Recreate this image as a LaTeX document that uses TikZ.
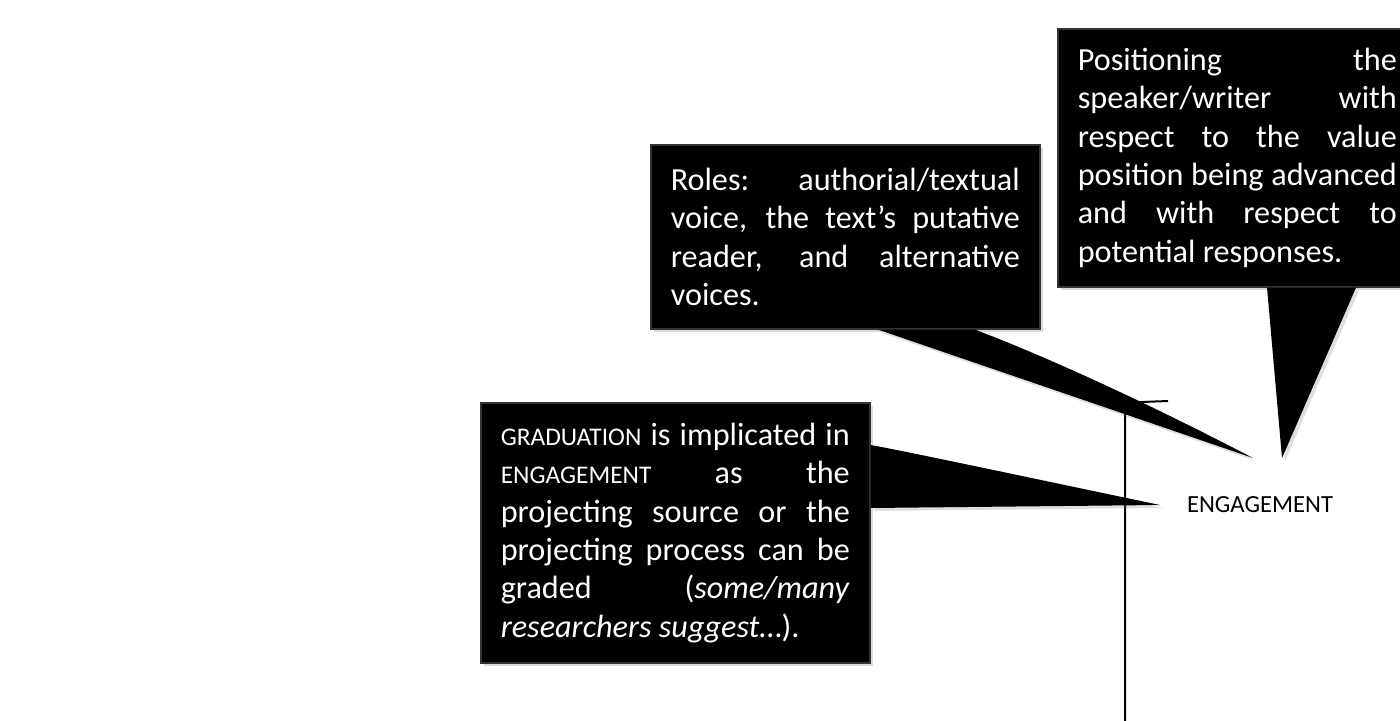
\documentclass[tikz,border=0pt]{standalone}
\usepackage{fontspec}
\setmainfont{Carlito}
\usetikzlibrary{positioning,calc,shadows}

\newcommand{\boxfont}{\fontsize{16.1pt}{19.2pt}\selectfont\tolerance=10000\hyphenpenalty=10000\hbadness=10000}
\newcommand{\fakesc}[1]{{\fontsize{12.7pt}{19.2pt}\selectfont #1}}

\begin{document}
\begin{tikzpicture}[x=0.5pt,y=-0.5pt,
    callout/.style={rectangle, fill=black, draw=black!80, line width=0.8pt,
        text=white, anchor=north west, inner xsep=10pt, align=justify,
        font=\boxfont,
        drop shadow={opacity=0.3, shadow xshift=1.5pt, shadow yshift=-1.5pt}},
    tail/.style={fill=black,
        drop shadow={opacity=0.25, shadow xshift=1.5pt, shadow yshift=-1.5pt}},
    bracket/.style={line width=1pt},
    sysname/.style={font=\fontsize{12.3pt}{14pt}\selectfont}]

    \useasboundingbox (0,0) rectangle (1400,721);

    % system network
    \node [sysname] (engage) at (1260,505) {ENGAGEMENT};
    \coordinate (brbot) at (1125,721);
    \coordinate (brend) at (1168,401);
    \draw [bracket] (brbot) -- (1125,412) .. controls (1125,405) and (1131,402.5) .. (1142,402) -- (brend);

    % callout boxes
    \node [callout, text width=174.5pt, minimum height=92pt] (roles) at (650,144) {
        Roles: authorial/textual\linebreak
        voice, the text’s putative\linebreak
        reader, and alternative\linebreak
        voices.};
    \node [callout, text width=159.5pt, minimum height=129pt] (posn) at (1057,28) {
        Positioning the\linebreak
        speaker/writer with\linebreak
        respect to the value\linebreak
        position being advanced\linebreak
        and with respect to\linebreak
        potential responses.};
    \node [callout, text width=174.5pt, minimum height=130pt] (grad) at (480,402) {
        \fakesc{GRADUATION} is implicated in\linebreak
        \fakesc{ENGAGEMENT} as the\linebreak
        projecting source or the\linebreak
        projecting process can be\linebreak
        graded (\textit{some/many}\linebreak
        \textit{researchers suggest}…).};

    % pointers
    \coordinate (rolestip) at (1253,458);
    \coordinate (posntip) at (1282,458);
    \coordinate (gradtip) at (1160,505);

    \fill [tail] ($(roles.south west)+(228,0)$) -- (rolestip)
        .. controls (1165,412) and (1060,362) .. ($(roles.south west)+(325,0)$) -- cycle;
    \fill [tail] ($(posn.south west)+(210,0)$) -- (posntip)
        -- ($(posn.south west)+(299,0)$) -- cycle;
    \fill [tail] ($(grad.north east)+(0,43)$) .. controls (900,450) and (1050,482) .. (gradtip)
        -- ($(grad.north east)+(0,106)$) -- cycle;

\end{tikzpicture}
\end{document}
